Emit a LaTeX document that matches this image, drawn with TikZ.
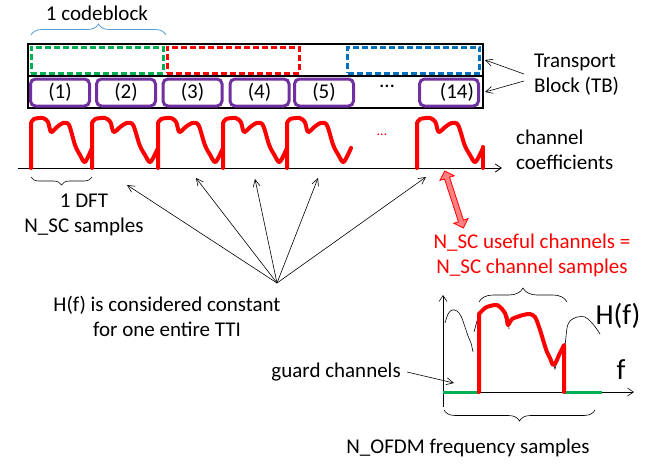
\documentclass[tikz,border=0pt]{standalone}
\usepackage{fontspec}
\setmainfont{Carlito}
\usetikzlibrary{arrows.meta,decorations.pathreplacing,shapes.arrows}

\definecolor{tbpurple}{RGB}{112,48,160}
\definecolor{cbgreen}{RGB}{0,176,80}
\definecolor{cbblue}{RGB}{0,112,192}
\definecolor{bracebl}{RGB}{91,155,213}

\tikzset{
  lbl/.style={font=\fontsize{21}{25}\selectfont, inner sep=0pt, align=center},
  cbox/.style={draw, line width=3pt, dash pattern=on 6pt off 3pt, minimum width=132pt, minimum height=26pt, inner sep=0pt},
  sym/.style={lbl, draw=tbpurple, line width=3pt, rounded corners=5pt, minimum width=59pt, minimum height=27pt},
  chan/.style={draw=red, line width=4pt, line join=round, line cap=round},
  thin arrow/.style={draw, line width=0.6pt, -{Straight Barb[length=7pt,width=7pt]}},
  axis/.style={draw, line width=0.8pt, -{Straight Barb[length=6pt,width=8pt]}},
  brc/.style={draw, line width=0.8pt, decorate, decoration={brace, amplitude=#1}},
}

\begin{document}
\begin{tikzpicture}[x=1pt,y=-1pt]
\useasboundingbox (0,0) rectangle (664,464);

% transport block
\node[draw, line width=1.5pt, minimum width=455pt, minimum height=64pt, inner sep=0pt] (tb) at (255.5,76) {};
\draw[line width=1.5pt] (tb.west) -- (tb.east);

\node[cbox, draw=cbgreen] (cb1) at (97,60) {};
\node[cbox, draw=red] (cb2) at (233,60) {};
\node[cbox, draw=cbblue] (cb3) at (413.5,60) {};

\begin{scope}[every node/.style={sym}]
  \node (s1)  at (60,92.5)  {(1)};
  \node (s2)  at (126,92.5) {(2)};
  \node (s3)  at (192.5,92.5) {(3)};
  \node (s4)  at (259.5,92.5) {(4)};
  \node (s5)  at (324,92.5) {(5)};
  \node[text width=50pt, align=right] (s14) at (449,92.5) {(14)};
\end{scope}
\node[lbl] (sdots) at (387,86) {…};

\draw[brc=11pt, draw=bracebl] (31,35) -- (166,35);
\node[lbl] (cbl) at (97,13) {1 codeblock};

\node[lbl, align=left, anchor=west] (tbl) at (534,75) {Transport\\Block (TB)};
\coordinate (tbtop) at (485,60);
\coordinate (tbbot) at (485,92);
\draw[thin arrow] ([xshift=-10pt,yshift=1pt]tbl.west) -- (tbtop);
\draw[thin arrow] ([xshift=-10pt,yshift=-6pt]tbl.west) -- (tbbot);

% channel coefficients
\coordinate (ax0) at (18,168);
\coordinate (ax1) at (502,168);
\draw[axis] (ax0) -- (ax1);

\foreach \s/\w in {31/61,92/66,158/65,223/64,287/64,417/66}
  \draw[chan, shift={(\s,0)}, xscale=\w/61] (0,168) -- (0,123) -- plot[smooth, tension=0.5] coordinates {(0,123) (3,119) (12,118) (17,122) (20,132) (26,127) (32,123) (38,125) (44,145) (49,155) (54,162) (61,148)};
\draw[chan] (483,147) -- (483,168);
\node[lbl, text=red, font=\fontsize{14}{16}\selectfont] (rdots) at (382,135) {…};

\node[lbl, align=left, anchor=west] (ccl) at (516,150) {channel\\coefficients};

\draw[brc=8pt, line width=0.6pt] (92,177) -- (31,177);
\node[lbl] (dftl) at (84,215) {1 DFT\\N\_SC samples};

% one channel per TTI
\node[lbl] (ttil) at (167,316) {H(f) is considered constant\\for one entire TTI};
\coordinate (src) at (277,283);
\coordinate (t1) at (127,185);
\coordinate (t2) at (196,178);
\coordinate (t3) at (255,179);
\coordinate (t4) at (318,178);
\coordinate (t5) at (426,177);
\foreach \t in {1,...,5}
  \draw[thin arrow] (src) -- (t\t);

\node[double arrow, draw=red, fill=red!50, line width=0.8pt, rotate=-72, minimum height=60pt, minimum width=15pt, double arrow head extend=3.5pt, inner sep=1.5pt] (dbl) at (454,199.5) {};
\node[lbl, text=red] (usel) at (532,255) {N\_SC useful channels =\\N\_SC channel samples};

% frequency response
\coordinate (yb) at (443,407);
\coordinate (yt) at (443,295);
\coordinate (xl) at (443,392);
\coordinate (xr) at (634,392);
\draw[axis, line width=0.6pt] (yb) -- (yt);
\draw[axis, line width=0.6pt] (xl) -- (xr);

\draw[line width=0.6pt, line join=round] plot[smooth, tension=0.5] coordinates {(445,323) (448,314) (452,310) (457,311) (461,316) (465,327) (468,336) (471,343) (473,352)};
\draw[line width=0.6pt, line join=round] (474,332) -- (477,321) -- (480,315);
\draw[line width=0.6pt, line join=round] plot[smooth, tension=0.5] coordinates {(565,347) (567,328) (570,321) (577,317) (585,317) (591,322) (596,328) (600,334)};
\draw[line width=0.6pt] (508,316) -- (509,329);
\draw[line width=0.6pt] (552,360) -- (555,369) -- (557,362);

\draw[line width=3pt, cbgreen] (xl) -- (479,392);
\draw[line width=3pt, cbgreen] (565,392) -- (602,392);

\draw[chan] (479,392) -- (479,314) -- plot[smooth, tension=0.5] coordinates {(479,314) (485,308) (490,306) (497,305) (502,309) (505,313) (507,320) (508,325) (512,319) (517,317) (523,315) (530,314) (535,317) (538,324) (541,333) (544,343) (547,352) (550,358) (553,365) (556,362) (559,355) (562,349) (564,345)} -- (564,392);

\draw[brc=14pt, line width=0.6pt] (479,302) -- (567,302);
\draw[brc=11pt, line width=0.6pt] (595,410) -- (444,410);

\node[lbl, font=\fontsize{29}{32}\selectfont] (hfl) at (618,316) {H(f)};
\node[lbl, font=\fontsize{29}{32}\selectfont] (fl) at (621,370) {f};

\node[lbl, anchor=east] (gcl) at (401,372) {guard channels};
\coordinate (gct) at (454,383);
\draw[thin arrow] ([xshift=6pt]gcl.east) -- (gct);

\node[lbl] (ofdml) at (468,448) {N\_OFDM frequency samples};

\end{tikzpicture}
\end{document}
